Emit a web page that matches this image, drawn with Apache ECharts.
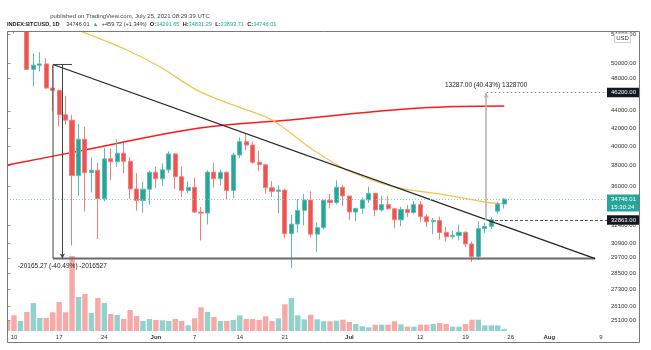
<!DOCTYPE html>
<html>
<head>
<meta charset="utf-8">
<script src="https://cdn.jsdelivr.net/npm/echarts@6/dist/echarts.min.js"></script>
<style>
  html, body { margin: 0; padding: 0; background: #ffffff; }
  #chart { width: 651px; height: 350px; }
</style>
</head>
<body>
<div id="chart"></div>
<script>
// INDEX:BTCUSD daily candles, 9 May – 25 Jul 2021
const dates = [
  'May 9','May 10','May 11','May 12','May 13','May 14','May 15','May 16','May 17','May 18',
  'May 19','May 20','May 21','May 22','May 23','May 24','May 25','May 26','May 27','May 28',
  'May 29','May 30','May 31','Jun 1','Jun 2','Jun 3','Jun 4','Jun 5','Jun 6','Jun 7',
  'Jun 8','Jun 9','Jun 10','Jun 11','Jun 12','Jun 13','Jun 14','Jun 15','Jun 16','Jun 17',
  'Jun 18','Jun 19','Jun 20','Jun 21','Jun 22','Jun 23','Jun 24','Jun 25','Jun 26','Jun 27',
  'Jun 28','Jun 29','Jun 30','Jul 1','Jul 2','Jul 3','Jul 4','Jul 5','Jul 6','Jul 7',
  'Jul 8','Jul 9','Jul 10','Jul 11','Jul 12','Jul 13','Jul 14','Jul 15','Jul 16','Jul 17',
  'Jul 18','Jul 19','Jul 20','Jul 21','Jul 22','Jul 23','Jul 24','Jul 25'
];
const opens = [
  58877, 58250, 55850, 56710, 49150, 49700, 49880, 46760, 46450, 43540,
  42910, 37000, 40780, 37300, 37540, 34770, 38700, 38400, 39290, 38440,
  35700, 34620, 35680, 37330, 36690, 37580, 39210, 36890, 35550, 35860,
  33560, 33470, 37350, 36700, 37330, 35550, 39100, 40520, 40150, 38350,
  38090, 35820, 35480, 35600, 31680, 32500, 33720, 34660, 31640, 32190,
  34650, 34430, 35870, 35040, 33570, 33900, 34670, 35290, 33750, 34240,
  33860, 32880, 33800, 33520, 34240, 33150, 32700, 32820, 31780, 31420,
  31530, 31800, 30820, 29810, 32110, 32310, 33640, 34291.65
];
const highs = [
  59210, 59520, 56870, 57940, 51330, 51440, 50640, 49720, 46620, 45810,
  43550, 42460, 42170, 38830, 38290, 39840, 39780, 40780, 40380, 38860,
  37230, 36400, 37470, 37900, 38230, 39480, 39290, 37920, 36440, 36790,
  34020, 37540, 38330, 37610, 37410, 39320, 40980, 41300, 40520, 39510,
  38190, 36460, 36060, 35720, 33300, 34750, 35230, 35490, 32640, 34660,
  35220, 36540, 36070, 35040, 33940, 34910, 35940, 35290, 35040, 35060,
  33910, 34040, 34210, 34590, 34580, 33340, 33060, 33160, 32250, 31940,
  32440, 31890, 31010, 32750, 32580, 33100, 34490, 34831.29
];
const lows = [
  56480, 54070, 54610, 49150, 46980, 48870, 46660, 43960, 42210, 42370,
  30680, 35050, 33620, 35380, 31230, 34550, 36580, 37870, 37250, 34780,
  33690, 33520, 34240, 35790, 35970, 37240, 35720, 34900, 35300, 33480,
  31110, 32480, 35850, 36040, 34730, 34860, 38760, 39610, 38180, 37440,
  35260, 34930, 33430, 31300, 28890, 31770, 32390, 31350, 30180, 32070,
  33900, 34250, 34090, 32880, 32770, 33400, 34400, 33210, 33600, 33770,
  32130, 32320, 33120, 33400, 32660, 32240, 31640, 31180, 31020, 31220,
  31110, 30560, 29360, 29530, 31750, 32060, 33430, 33893.71
];
const closes = [
  58232, 55860, 56700, 49150, 49700, 49880, 46760, 46450, 43540, 42910,
  37000, 40780, 37300, 37540, 34770, 38700, 38400, 39290, 38440, 35700,
  34620, 35680, 37330, 36690, 37580, 39210, 36890, 35550, 35860, 33560,
  33470, 37350, 36700, 37330, 35550, 39100, 40520, 40150, 38350, 38090,
  35820, 35480, 35600, 31680, 32500, 33720, 34660, 31640, 32190, 34650,
  34430, 35870, 35040, 33570, 33900, 34670, 35290, 33750, 34240, 33860,
  32880, 33800, 33520, 34240, 33150, 32700, 32820, 31780, 31420, 31530,
  31800, 30820, 29810, 32110, 32310, 32880, 34286.29, 34746.01
];
// relative daily volume
const volumes = [
  10.0, 15.7, 10.0, 19.0, 28.0, 13.0, 13.0, 18.7, 29.0, 18.7,
  75.0, 34.0, 37.0, 18.0, 33.0, 28.0, 17.0, 16.0, 12.0, 21.0,
  15.0, 10.0, 12.0, 11.0, 10.7, 10.0, 12.0, 10.0, 5.7, 12.7,
  23.7, 19.0, 14.0, 10.0, 10.0, 11.0, 15.7, 12.0, 12.0, 11.0,
  14.7, 10.0, 12.7, 26.7, 33.0, 15.7, 11.7, 16.3, 11.7, 9.7,
  9.7, 10.3, 11.3, 9.0, 7.0, 4.7, 3.7, 6.3, 6.3, 6.3,
  9.7, 6.7, 4.3, 4.3, 6.3, 6.3, 7.0, 8.0, 7.0, 4.3,
  4.3, 7.0, 11.3, 11.3, 5.7, 5.7, 5.7, 2.0
];

// 50-day and 200-day moving averages (bar index, price)
const ma50Index = [11.5, 18.5, 23.6, 29.8, 36.0, 41.0, 47.4, 52.6, 59.8, 68.1, 74.3, 77.0];
const ma50Value = [54365, 51768, 49508, 46307, 44400, 42934, 39624, 37562, 35925, 35129, 34450, 34330];
const ma200Index = [0, 12, 29.8, 43.8, 64, 77];
const ma200Value = [38058, 39624, 42023, 42934, 44330, 44570];

// price axis ticks and time axis ticks
const priceTicks = [54000, 50000, 48000, 44000, 42000, 40000, 38000, 36000, 32400, 30900, 29700, 28500, 27300, 26100, 25100];
const timeTickIndex = [1, 8, 15, 23, 29, 36, 43, 53, 64, 71, 78, 84, 92];
const timeTickText = ['10', '17', '24', 'Jun', '7', '14', '21', 'Jul', '12', '19', '26', 'Aug', '9'];

// drawing tools: falling range, rising range, triangle and horizontal levels
const dropRange = { index: 8.5, from: 49803.27, change: -20165.27, pct: -40.49, label: '-20165.27 (-40.49%) -2016527' };
const riseRange = { index: 74.2, from: 32863.00, change: 13287.00, pct: 40.43, label: '13287.00 (40.43%) 1328700' };
const triangleIndex = [7.05, 7.05, 91.1];
const triangleTop = 49803.27;
const triangleBase = 29638.0;
const rangeBoxIndex = [7.05, 10.0];
const targetLevel = { index: 74.3, price: 46200.00 };
const breakoutLevel = { index: 74.8, price: 32863.00 };
const lastPrice = { price: 34746.01, time: '15:30:24' };

const UP = '#26a69a', DOWN = '#ef5350';
const UP_WICK = '#5dbdb3', DOWN_WICK = '#f37f7c';
const X_MIN = -0.085, X_MAX = 92.94;
const FONT = 'Liberation Sans, Arial, sans-serif';

const candleData = dates.map((d, i) => [i, opens[i], closes[i], lows[i], highs[i]]);
const volData = volumes.map((v, i) => ({
  value: [i, v],
  itemStyle: { color: closes[i] >= opens[i] ? 'rgba(38,166,154,0.5)' : 'rgba(239,83,80,0.5)' }
}));
const ma50Data = ma50Index.map((x, i) => [x, ma50Value[i]]);
const ma200Data = ma200Index.map((x, i) => [x, ma200Value[i]]);

function priceBox(bg) {
  return {
    show: true, position: 'end', distance: 0,
    color: '#ffffff', backgroundColor: bg, padding: [1.5, 4, 0.5, 4],
    fontSize: 6, fontFamily: FONT, lineHeight: 7.5
  };
}

const chart = echarts.init(document.getElementById('chart'), null, { renderer: 'canvas' });
chart.setOption({
  animation: false,
  backgroundColor: '#ffffff',
  grid: { left: 7, right: 44, top: 31, height: 300, containLabel: false },
  xAxis: {
    type: 'value', min: X_MIN, max: X_MAX,
    axisLine: { show: false },
    axisTick: { show: false },
    splitLine: { show: false },
    axisLabel: {
      customValues: timeTickIndex,
      margin: 3, fontSize: 6, color: '#333', fontFamily: FONT,
      formatter: v => {
        const k = timeTickIndex.indexOf(v);
        const t = k >= 0 ? timeTickText[k] : '';
        return /^[A-Za-z]/.test(t) ? '{m|' + t + '}' : t;
      },
      rich: { m: { fontSize: 6, fontWeight: 'bold', color: '#333', fontFamily: FONT } }
    }
  },
  yAxis: [
    {
      type: 'log', logBase: 10, min: 24421, max: 54467, position: 'right',
      axisLine: { show: true, lineStyle: { color: '#c8c8c8', width: 1 } },
      axisTick: { show: true, length: 3, customValues: priceTicks, lineStyle: { color: '#999' } },
      splitLine: { show: false },
      axisLabel: {
        customValues: priceTicks, margin: 4, fontSize: 6, color: '#333', fontFamily: FONT,
        formatter: v => Number(v).toFixed(2)
      }
    },
    { type: 'value', min: 0, max: 300, show: false }
  ],
  series: [
    {
      name: 'Volume', type: 'bar', xAxisIndex: 0, yAxisIndex: 1, clip: true,
      data: volData, barWidth: 5.4, silent: true, z: 1
    },
    {
      name: 'MA200', type: 'line', data: ma200Data, smooth: 0.4, showSymbol: false, clip: true,
      lineStyle: { color: '#ff1a1a', width: 1.5 }, z: 2, silent: true
    },
    {
      name: 'MA50', type: 'line', data: ma50Data, smooth: 0.3, showSymbol: false, clip: true,
      lineStyle: { color: '#f7c24e', width: 1.3 }, z: 2, silent: true
    },
    {
      name: 'BTCUSD', type: 'candlestick', data: candleData, clip: true,
      encode: { x: 0, y: [1, 2, 3, 4] },
      barWidth: 4.6, z: 3,
      itemStyle: { color: UP, color0: DOWN, borderColor: UP_WICK, borderColor0: DOWN_WICK, borderWidth: 1 },
      markLine: {
        silent: true, symbol: 'none', animation: false,
        data: [
          [
            { coord: [X_MIN, lastPrice.price], lineStyle: { color: '#7fcdc5', type: [1, 2], width: 1 },
              label: Object.assign(priceBox(UP), { offset: [0, 4], formatter: lastPrice.price.toFixed(2) + '\n' + lastPrice.time }) },
            { coord: [X_MAX, lastPrice.price] }
          ],
          [
            { coord: [targetLevel.index, targetLevel.price], lineStyle: { color: '#888', type: [1.5, 2.5], width: 1 },
              label: Object.assign(priceBox('#131722'), { formatter: targetLevel.price.toFixed(2) }) },
            { coord: [X_MAX, targetLevel.price] }
          ],
          [
            { coord: [breakoutLevel.index, breakoutLevel.price], lineStyle: { color: '#555', type: [3, 2], width: 1 },
              label: Object.assign(priceBox('#131722'), { formatter: breakoutLevel.price.toFixed(2) }) },
            { coord: [X_MAX, breakoutLevel.price] }
          ]
        ]
      }
    },
    {
      name: 'Triangle', type: 'line', silent: true, showSymbol: false, z: 4,
      data: [[triangleIndex[1], triangleBase], [triangleIndex[2], triangleBase]],
      lineStyle: { color: '#6b6b6b', width: 2 }
    },
    {
      name: 'TriangleSide', type: 'line', silent: true, showSymbol: false, z: 4,
      data: [[triangleIndex[0], triangleTop], [triangleIndex[1], triangleBase]],
      lineStyle: { color: '#444', width: 1 }
    },
    {
      name: 'TriangleHypotenuse', type: 'line', silent: true, showSymbol: false, z: 4,
      data: [[triangleIndex[0], triangleTop], [triangleIndex[2], triangleBase]],
      lineStyle: { color: '#222', width: 1.2 }
    },
    {
      name: 'RangeBoxTop', type: 'line', silent: true, showSymbol: false, z: 4,
      data: [[rangeBoxIndex[0], dropRange.from], [rangeBoxIndex[1], dropRange.from]],
      lineStyle: { color: '#444', width: 1 },
      markLine: {
        silent: true, animation: false, symbol: ['none', 'arrow'], symbolSize: [4, 5],
        data: [[
          { coord: [dropRange.index, dropRange.from], lineStyle: { color: '#444', width: 1, type: 'solid' },
            label: { show: true, position: 'end', distance: 4, formatter: dropRange.label, fontSize: 6.5, color: '#222', fontFamily: FONT } },
          { coord: [dropRange.index, dropRange.from + dropRange.change] }
        ]]
      }
    },
    {
      name: 'RiseRange', type: 'line', silent: true, showSymbol: false, z: 4, data: [],
      markLine: {
        silent: true, animation: false, symbol: ['none', 'arrow'], symbolSize: [4, 5],
        data: [[
          { coord: [riseRange.index, riseRange.from], lineStyle: { color: '#b4b4b4', width: 1.6, type: 'solid' },
            label: { show: true, position: 'end', distance: 4, formatter: riseRange.label, fontSize: 6.5, color: '#222', fontFamily: FONT } },
          { coord: [riseRange.index, riseRange.from + riseRange.change] }
        ]]
      }
    }
  ],
  graphic: [
    // blank margins outside the price pane
    { type: 'rect', silent: true, z: 90, shape: { x: 0, y: 0, width: 651, height: 31 }, style: { fill: '#ffffff' } },
    { type: 'rect', silent: true, z: 90, shape: { x: 0, y: 0, width: 7, height: 350 }, style: { fill: '#ffffff' } },
    { type: 'rect', silent: true, z: 100,
      shape: { x: 7.5, y: 31.5, width: 632, height: 311 },
      style: { fill: 'none', stroke: '#7a7a7a', lineWidth: 1 } },
    { type: 'rect', silent: true, z: 101,
      shape: { x: 614.5, y: 33.5, width: 16, height: 9 },
      style: { fill: '#ffffff', stroke: '#cfcfcf', lineWidth: 1 } },
    { type: 'text', silent: true, z: 102, x: 622.5, y: 38,
      style: { text: 'USD', fontSize: 6, fill: '#333', fontFamily: FONT, align: 'center', verticalAlign: 'middle' } },
    { type: 'text', silent: true, z: 102, x: 130, y: 16,
      style: { text: 'published on TradingView.com, July 25, 2021 08:29:39 UTC', fontSize: 6, fill: '#444', fontFamily: FONT, align: 'center', verticalAlign: 'middle' } },
    { type: 'text', silent: true, z: 102, x: 7, y: 24.5,
      style: {
        text: '{b|INDEX:BTCUSD, 1D}  {n|34746.01} {g|▲} {n|+459.72 (+1.34%)} {b|O:}{g|34291.65} {b|H:}{g|34831.29} {b|L:}{g|33893.71} {b|C:}{g|34746.01}',
        verticalAlign: 'middle', fontFamily: FONT,
        rich: {
          b: { fontSize: 5.6, fontWeight: 'bold', fill: '#222', fontFamily: FONT },
          n: { fontSize: 5.6, fill: '#333', fontFamily: FONT },
          g: { fontSize: 5.6, fill: UP, fontFamily: FONT }
        }
      } }
  ]
});
</script>
</body>
</html>
